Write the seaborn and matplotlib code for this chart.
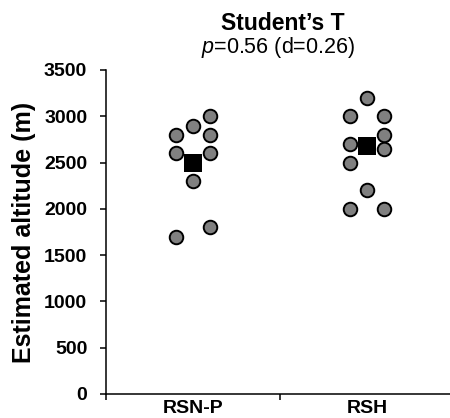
import numpy as np
import pandas as pd
import seaborn as sns
import matplotlib.pyplot as plt

# data
groups = ['RSN-P', 'RSH']
rsn_p = [3000, 2900, 2800, 2800, 2600, 2600, 2300, 1800, 1700]
rsh = [3200, 3000, 3000, 2800, 2700, 2650, 2500, 2200, 2000, 2000]
means = [2500, 2680]
yticks = [0, 500, 1000, 1500, 2000, 2500, 3000, 3500]

# hand layout of the dots (column left/centre/right within a group)
rsn_p_col = [1, 0, -1, 1, -1, 1, 0, 1, -1]
rsh_col = [0, -1, 1, 1, -1, 1, -1, 0, -1, 1]
step = 0.1

sns.set_style('ticks')
plt.rcParams['font.family'] = ['Liberation Sans', 'DejaVu Sans']
plt.rcParams['mathtext.fontset'] = 'custom'
plt.rcParams['mathtext.it'] = 'Liberation Sans:italic'
plt.rcParams['mathtext.rm'] = 'Liberation Sans'
for k in ['text.color', 'axes.labelcolor', 'xtick.color', 'ytick.color', 'axes.edgecolor']:
    plt.rcParams[k] = 'black'

pts = pd.DataFrame({
    'group': ['RSN-P'] * len(rsn_p) + ['RSH'] * len(rsh),
    'alt': rsn_p + rsh,
    'col': rsn_p_col + rsh_col,
})
pts['x'] = pts['group'].map({g: i for i, g in enumerate(groups)}) + pts['col'] * step
mn = pd.DataFrame({'x': range(len(groups)), 'alt': means})

fig = plt.figure(figsize=(4.5, 4.18), dpi=100)
ax = fig.add_axes([106 / 450, 1 - 394 / 418, 348 / 450, 324 / 418])

sns.scatterplot(data=pts, x='x', y='alt', ax=ax, s=95, color='#808080',
                edgecolor='black', linewidth=1.4, zorder=3, clip_on=False)
sns.scatterplot(data=mn, x='x', y='alt', ax=ax, s=170, marker='s',
                color='black', edgecolor='black', linewidth=0, zorder=4, clip_on=False)

ax.set_xlim(-0.5, 1.5)
ax.set_ylim(0, 3500)
ax.set_yticks(yticks)
ax.set_yticklabels([str(t) for t in yticks], fontsize=14, fontweight='bold')
ax.set_xticks([-0.5, 0.5, 1.5])
ax.set_xticklabels([])
ax.set_xticks([0, 1], minor=True)
ax.set_xticklabels(groups, minor=True, fontsize=14, fontweight='bold')
ax.tick_params(axis='x', which='minor', length=0, pad=4)
ax.tick_params(axis='both', which='major', length=4.5, width=1.1, color='black')
ax.tick_params(axis='y', pad=9)
ax.set_xlabel('')
ax.set_ylabel('Estimated altitude (m)', fontsize=18, fontweight='bold', labelpad=6)
for s in ['left', 'bottom']:
    ax.spines[s].set_linewidth(1.1)
sns.despine(ax=ax)

fig.text(283 / 450, 1 - 23 / 418, "Student\u2019s T", ha='center', va='center',
         fontsize=16.5, fontweight='bold')
fig.text(278 / 450, 1 - 47 / 418, '$p$=0.56 (d=0.26)', ha='center', va='center',
         fontsize=15.5)

fig.savefig('out.png', dpi=100)
